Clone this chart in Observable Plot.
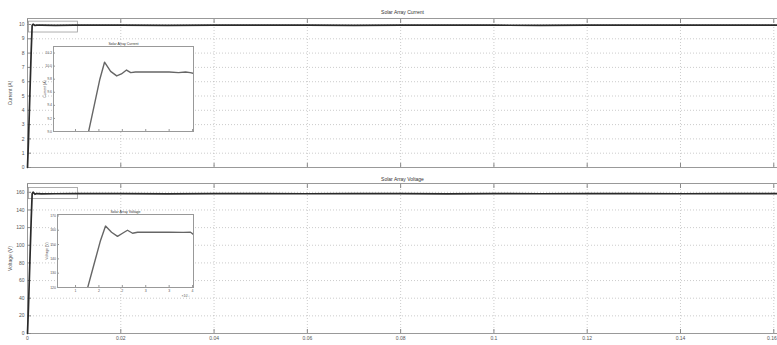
<!DOCTYPE html>
<html><head><meta charset="utf-8">
<script src="https://cdn.jsdelivr.net/npm/d3@7"></script>
<script src="https://cdn.jsdelivr.net/npm/@observablehq/plot@0.6"></script>
<style>
body{margin:0;background:#fff;overflow:hidden}
#wrap{position:relative;width:777px;height:345px;overflow:hidden}
#wrap svg{position:absolute;overflow:visible}
</style></head><body><div id="wrap"></div>
<script>
// ---- main panels data (time in s) ----
const mainTime    = [0, 0.0002, 0.0005, 0.0008, 0.001, 0.0012, 0.0016, 0.002, 0.003, 0.006, 0.01, 0.02, 0.03, 0.04, 0.05, 0.06, 0.07, 0.08, 0.09, 0.1, 0.11, 0.12, 0.13, 0.14, 0.15, 0.1608];
const mainCurrent = [0, 1.8, 5.0, 8.2, 9.95, 10.02, 9.93, 9.96, 9.95, 9.94, 9.95, 9.96, 9.94, 9.95, 9.96, 9.95, 9.94, 9.96, 9.95, 9.95, 9.94, 9.96, 9.95, 9.95, 9.96, 9.95];
const mainVoltage = [0, 29, 80, 130, 158.5, 160.2, 157.8, 158.6, 158.3, 158.4, 158.5, 158.6, 158.3, 158.5, 158.6, 158.4, 158.5, 158.6, 158.3, 158.5, 158.4, 158.6, 158.5, 158.4, 158.6, 158.5];

const xTicks = [0, 0.02, 0.04, 0.06, 0.08, 0.1, 0.12, 0.14, 0.16];
const xTickLabels = ["0", "0.02", "0.04", "0.06", "0.08", "0.1", "0.12", "0.14", "0.16"];
const currentTicks = [0, 1, 2, 3, 4, 5, 6, 7, 8, 9, 10];
const voltageTicks = [0, 20, 40, 60, 80, 100, 120, 140, 160];

// zoom boxes drawn on the main panels [x1, x2, y1, y2]
const zoomBoxCurrent = [0.0003, 0.0108, 9.44, 10.2];
const zoomBoxVoltage = [0.0003, 0.0108, 152.3, 164.8];

// ---- insets data (time in ms, i.e. x10^-3 s) ----
const insetTimeI    = [1.28, 1.40, 1.52, 1.62, 1.75, 1.88, 1.98, 2.09, 2.18, 2.28, 2.5, 2.8, 3.0, 3.2, 3.35, 3.45, 3.52];
const insetCurrent  = [9.0, 9.4, 9.8, 10.06, 9.92, 9.85, 9.88, 9.94, 9.9, 9.91, 9.91, 9.91, 9.91, 9.9, 9.91, 9.9, 9.89];
const insetTimeV    = [1.26, 1.385, 1.534, 1.641, 1.769, 1.897, 2.004, 2.11, 2.218, 2.325, 2.6, 3.0, 3.3, 3.457, 3.52];
const insetVoltage  = [120, 135, 152.9, 162.9, 158.6, 155.7, 157.9, 160, 157.9, 158.6, 158.6, 158.6, 158.5, 158.6, 157.1];
const insetCurTicks = [9, 9.2, 9.4, 9.6, 9.8, 10, 10.2];
const insetVolTicks = [120, 130, 140, 150, 160, 170];
const insetTimeTicks = [1, 1.5, 2, 2.5, 3, 3.5];

const font = "'Liberation Sans', Arial, sans-serif";
const wrap = document.getElementById("wrap");
const lastTick = xTicks[xTicks.length - 1];

function mainPanel(o) {
  const data = mainTime.map((t, i) => ({t, v: o.values[i]}));
  const box = [{x1: o.box[0], x2: o.box[1], y1: o.box[2], y2: o.box[3]}];
  const svg = Plot.plot({
    width: 777, height: o.height,
    marginLeft: 27, marginRight: 0, marginTop: o.mt, marginBottom: o.mb,
    style: {fontSize: "5px", fontFamily: font, color: "#555", background: "white"},
    x: {domain: [0, 0.1608]},
    y: {domain: o.yDomain},
    marks: [
      Plot.gridX(xTicks, {stroke: "#999", strokeOpacity: 0.5, strokeDasharray: "1,2"}),
      Plot.gridY(o.yTicks, {stroke: "#999", strokeOpacity: 0.5, strokeDasharray: "1,2"}),
      Plot.frame({stroke: "#999"}),
      Plot.axisX(xTicks, {anchor: "bottom", tickSize: -4, tickFormat: () => "", label: null, stroke: "#888"}),
      Plot.axisX(xTicks, {anchor: "top", tickSize: -4, tickFormat: () => "", label: null, stroke: "#888"}),
      o.showX ? Plot.axisX(xTicks.slice(0, -1), {anchor: "bottom", tickSize: 0, tickPadding: 3, label: null,
        tickFormat: (d) => xTickLabels[xTicks.indexOf(d)], fill: "#555"}) : null,
      o.showX ? Plot.axisX([lastTick], {anchor: "bottom", tickSize: 0, tickPadding: 3, label: null,
        textAnchor: "end", dx: 3, tickFormat: (d) => xTickLabels[xTicks.indexOf(d)], fill: "#555"}) : null,
      Plot.axisY(o.yTicks, {anchor: "left", tickSize: -4, tickFormat: () => "", label: null, stroke: "#888"}),
      Plot.axisY(o.yTicks, {anchor: "left", tickSize: 0, tickPadding: 3, fill: "#555",
        label: o.label, labelAnchor: "center", labelArrow: "none", labelOffset: 19}),
      Plot.rect(box, {x1: "x1", x2: "x2", y1: "y1", y2: "y2", fill: "none", stroke: "#999", strokeWidth: 0.8}),
      Plot.line(data, {x: "t", y: "v", stroke: "#2a2a2a", strokeWidth: 1.7}),
      Plot.text([o.title], {frameAnchor: "top", dy: o.titleDy, fontSize: 5, fill: "#333"})
    ]
  });
  svg.style.left = "0px"; svg.style.top = o.top + "px";
  wrap.appendChild(svg);
}

function insetPanel(o) {
  const data = o.times.map((t, i) => ({t, v: o.values[i]}));
  const svg = Plot.plot({
    width: o.width, height: o.height,
    marginLeft: o.ml, marginRight: 5, marginTop: 10, marginBottom: o.mb,
    style: {fontSize: "3.5px", fontFamily: font, color: "#555", background: "transparent"},
    x: {domain: o.xDomain},
    y: {domain: o.yDomain},
    marks: [
      Plot.frame({stroke: "#999", fill: "white"}),
      Plot.axisX(insetTimeTicks, {anchor: "bottom", tickSize: -2, tickFormat: () => "", label: null, stroke: "#999"}),
      o.showX ? Plot.axisX(insetTimeTicks, {anchor: "bottom", tickSize: 0, tickPadding: 2, label: null, fill: "#555"}) : null,
      o.showX ? Plot.text(["×10⁻³"], {frameAnchor: "bottom-right", dx: -4, dy: 9, fontSize: 3.5, fill: "#555"}) : null,
      Plot.axisY(o.yTicks, {anchor: "left", tickSize: -2, tickFormat: () => "", label: null, stroke: "#999"}),
      Plot.axisY(o.yTicks, {anchor: "left", tickSize: 0, tickPadding: 1.5, fill: "#555",
        label: o.label, labelAnchor: "center", labelArrow: "none", labelOffset: o.labelOffset}),
      Plot.line(data, {x: "t", y: "v", stroke: "#666", strokeWidth: 1.4, clip: true}),
      Plot.text([o.title], {frameAnchor: "top", dy: -4, fontSize: 3.5, fill: "#333"})
    ]
  });
  svg.style.left = o.left + "px"; svg.style.top = o.top + "px";
  wrap.appendChild(svg);
}

mainPanel({values: mainCurrent, yDomain: [0, 10.42], yTicks: currentTicks, label: "Current (A)",
  title: "Solar Array Current", top: 0, height: 172, mt: 18, mb: 5, titleDy: -8, showX: false, box: zoomBoxCurrent});
mainPanel({values: mainVoltage, yDomain: [0, 170], yTicks: voltageTicks, label: "Voltage (V)",
  title: "Solar Array Voltage", top: 172, height: 173, mt: 11, mb: 12, titleDy: -6, showX: true, box: zoomBoxVoltage});

insetPanel({times: insetTimeI, values: insetCurrent, xDomain: [0.53, 3.52], yDomain: [9, 10.3],
  yTicks: insetCurTicks, label: "Current (A)", title: "Solar Array Current",
  left: 33, top: 36, width: 165, height: 100, ml: 20, mb: 5, labelOffset: 10, showX: false});
insetPanel({times: insetTimeV, values: insetVoltage, xDomain: [0.615, 3.52], yDomain: [120, 171],
  yTicks: insetVolTicks, label: "Voltage (V)", title: "Solar Array Voltage",
  left: 33, top: 204, width: 165, height: 100, ml: 24, mb: 17, labelOffset: 12, showX: true});
</script></body></html>
